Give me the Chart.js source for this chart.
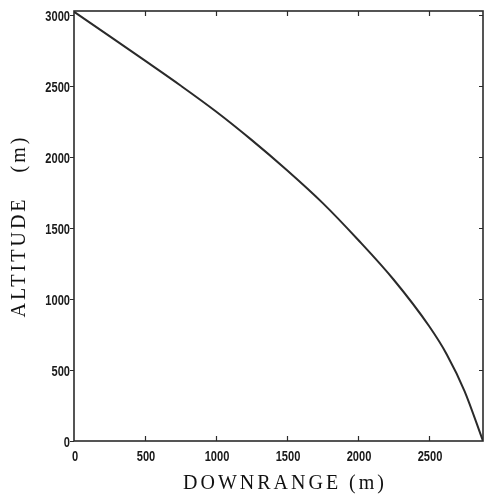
<!DOCTYPE html>
<html>
<head>
<meta charset="utf-8">
<title>Altitude vs downrange</title>
<script src="https://cdn.jsdelivr.net/npm/chart.js@4.4.1/dist/chart.umd.min.js"></script>
<style>
  html, body { margin: 0; padding: 0; background: #fff; }
  #wrap { width: 485px; height: 497px; }
</style>
</head>
<body>
<div id="wrap"><canvas id="myChart" width="485" height="497"></canvas></div>
<script>
// trajectory samples, downrange (m) and altitude (m)
const downrange = [0, 250, 500, 750, 1000, 1250, 1500, 1750, 2000, 2250, 2500, 2625, 2750, 2880];
const altitude  = [3025, 2853, 2680, 2505, 2322, 2122, 1908, 1678, 1418, 1138, 810, 610, 352, 0];

const xTicks = [0, 500, 1000, 1500, 2000, 2500];
const yTicks = [0, 500, 1000, 1500, 2000, 2500, 3000];
const xMax = 2880;
const yMax = 3030;

const xTitle = 'DOWNRANGE (m)';
const yTitle = 'ALTITUDE   (m)';

const tickFont = "bold 15px 'Liberation Sans', Arial, sans-serif";
const titleFont = "20px 'Liberation Serif', 'Times New Roman', serif";

// narrow tick label: squeeze the glyphs horizontally
function drawNarrow(ctx, text, x, y, align) {
    ctx.save();
    ctx.translate(x, y);
    ctx.scale(0.74, 1);
    ctx.textAlign = align;
    ctx.fillText(text, 0, 0);
    ctx.restore();
}

// box around the plot, tick marks, tick labels and the two axis titles
const framePlugin = {
    id: 'frame',
    afterDraw(chart) {
        const ctx = chart.ctx;
        const area = chart.chartArea;
        const xs = chart.scales.x;
        const ys = chart.scales.y;
        ctx.save();
        ctx.strokeStyle = '#2b2b2b';
        ctx.lineWidth = 1.6;
        ctx.strokeRect(area.left, area.top, area.right - area.left, area.bottom - area.top);

        ctx.lineWidth = 1.2;
        ctx.beginPath();
        for (const t of xs.ticks) {
            const px = Math.round(xs.getPixelForValue(t.value)) + 0.5;
            if (t.value === 0) continue;
            ctx.moveTo(px, area.bottom);
            ctx.lineTo(px, area.bottom - 5);
            ctx.moveTo(px, area.top);
            ctx.lineTo(px, area.top + 5);
        }
        for (const t of ys.ticks) {
            const py = Math.round(ys.getPixelForValue(t.value)) + 0.5;
            ctx.moveTo(area.left - 4, py);
            ctx.lineTo(area.left, py);
            if (t.value === 0) continue;
            ctx.moveTo(area.right, py);
            ctx.lineTo(area.right - 4, py);
        }
        ctx.stroke();

        ctx.fillStyle = '#1a1a1a';
        ctx.font = tickFont;
        ctx.textBaseline = 'alphabetic';
        for (const t of xs.ticks) {
            drawNarrow(ctx, String(t.value), xs.getPixelForValue(t.value) + 1, area.bottom + 20, 'center');
        }
        for (const t of ys.ticks) {
            drawNarrow(ctx, String(t.value), area.left - 4, ys.getPixelForValue(t.value) + 5.5, 'right');
        }

        ctx.fillStyle = '#111';
        ctx.font = titleFont;
        ctx.letterSpacing = '3px';
        ctx.textAlign = 'center';
        ctx.fillText(xTitle, 285, 489);

        ctx.translate(25, 226);
        ctx.rotate(-Math.PI / 2);
        ctx.fillText(yTitle, 0, 0);
        ctx.restore();
    }
};

const points = downrange.map((x, i) => ({ x: x, y: altitude[i] }));

const config = {
    type: 'scatter',
    data: {
        datasets: [{
            data: points,
            showLine: true,
            borderColor: '#2a2a2a',
            borderWidth: 2,
            pointRadius: 0,
            cubicInterpolationMode: 'monotone',
            fill: false
        }]
    },
    options: {
        responsive: false,
        animation: false,
        events: [],
        layout: { padding: { left: 0, right: 2, top: 11, bottom: 0 } },
        plugins: {
            legend: { display: false },
            tooltip: { enabled: false }
        },
        scales: {
            x: {
                type: 'linear',
                min: 0,
                max: xMax,
                afterFit: (scale) => { scale.height = 56; },
                afterBuildTicks: (scale) => { scale.ticks = xTicks.map(v => ({ value: v })); },
                grid: { display: false, drawTicks: false },
                border: { display: false },
                ticks: { display: false }
            },
            y: {
                type: 'linear',
                min: 0,
                max: yMax,
                afterFit: (scale) => { scale.width = 74; },
                afterBuildTicks: (scale) => { scale.ticks = yTicks.map(v => ({ value: v })); },
                grid: { display: false, drawTicks: false },
                border: { display: false },
                ticks: { display: false }
            }
        }
    },
    plugins: [framePlugin]
};

const myChart = new Chart(document.getElementById('myChart'), config);
</script>
</body>
</html>
